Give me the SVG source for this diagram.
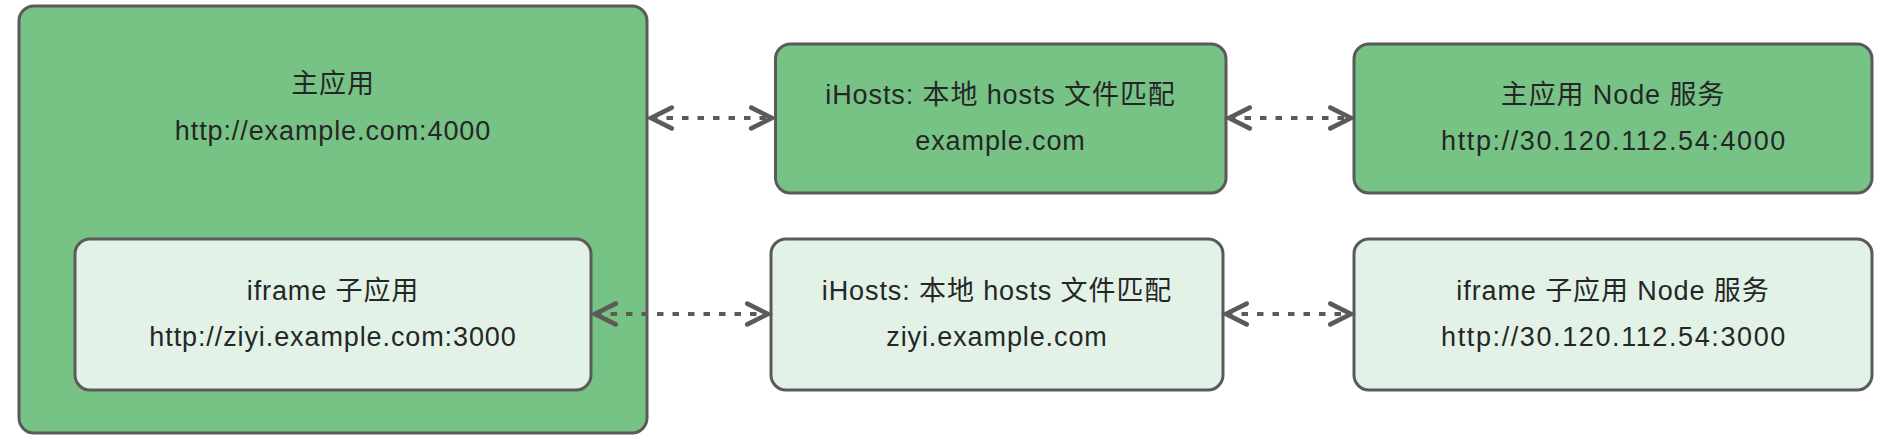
<svg xmlns="http://www.w3.org/2000/svg" width="1896" height="440" viewBox="0 0 1896 440">
  <style>
    .dark { fill: #77C386; stroke: #5A5A5A; stroke-width: 3; }
    .light { fill: #E2F2E6; stroke: #5A5A5A; stroke-width: 3; }
    .label { font-family: "Liberation Sans", "Noto Sans CJK SC", sans-serif; font-size: 27px; letter-spacing: 0.9px; fill: #262626; text-anchor: middle; }
    .wide { letter-spacing: 1.6px; }
    .conn { fill: none; stroke: #5A5A5A; stroke-width: 4; stroke-dasharray: 6.5 9; }
  </style>
  <defs>
    <marker id="chev" markerUnits="userSpaceOnUse" markerWidth="30" markerHeight="30" viewBox="-22 -13 26 26" refX="0" refY="0" orient="auto-start-reverse" overflow="visible">
      <path d="M-18,-9 L0,0 L-18,9" fill="none" stroke="#5A5A5A" stroke-width="4" stroke-linecap="round" stroke-linejoin="miter" stroke-dasharray="none"/>
    </marker>
  </defs>
  <rect width="1896" height="440" fill="#FFFFFF"/>
  <g id="main-app">
    <rect class="dark" x="19" y="6" width="628" height="427" rx="15" ry="15"/>
    <text class="label" x="333" y="93">主应用</text>
    <text class="label" x="333" y="140">http://example.com:4000</text>
  </g>
  <g id="iframe-app">
    <rect class="light" x="75" y="239" width="516" height="151" rx="15" ry="15"/>
    <text class="label" x="333" y="300">iframe 子应用</text>
    <text class="label" x="333" y="346">http://ziyi.example.com:3000</text>
  </g>
  <g id="ihosts-main">
    <rect class="dark" x="775.5" y="44" width="450.5" height="149" rx="15" ry="15"/>
    <text class="label" x="1000.5" y="104">iHosts: 本地 hosts 文件匹配</text>
    <text class="label" x="1000.5" y="150">example.com</text>
  </g>
  <g id="ihosts-iframe">
    <rect class="light" x="771" y="239" width="452" height="151" rx="15" ry="15"/>
    <text class="label" x="997" y="300">iHosts: 本地 hosts 文件匹配</text>
    <text class="label" x="997" y="346">ziyi.example.com</text>
  </g>
  <g id="node-main">
    <rect class="dark" x="1354" y="44" width="518" height="149" rx="15" ry="15"/>
    <text class="label" x="1613" y="104">主应用 Node 服务</text>
    <text class="label wide" x="1614" y="150">http://30.120.112.54:4000</text>
  </g>
  <g id="node-iframe">
    <rect class="light" x="1354" y="239" width="518" height="151" rx="15" ry="15"/>
    <text class="label" x="1613" y="300">iframe 子应用 Node 服务</text>
    <text class="label wide" x="1614" y="346">http://30.120.112.54:3000</text>
  </g>
  <g id="connectors">
    <path class="conn" d="M651,118 L772,118" marker-start="url(#chev)" marker-end="url(#chev)"/>
    <path class="conn" d="M1229,118 L1351,118" marker-start="url(#chev)" marker-end="url(#chev)"/>
    <path class="conn" d="M595,314 L768,314" marker-start="url(#chev)" marker-end="url(#chev)"/>
    <path class="conn" d="M1226,314 L1351,314" marker-start="url(#chev)" marker-end="url(#chev)"/>
  </g>
</svg>
